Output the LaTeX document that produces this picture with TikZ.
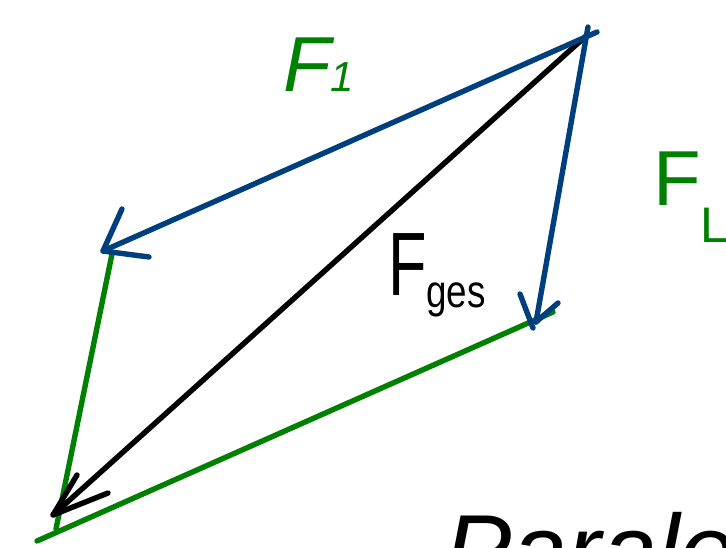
\documentclass[tikz,border=0pt]{standalone}
\usepackage{fontspec}
\setmainfont{Liberation Sans}
\usepackage{graphicx}
\begin{document}
\begin{tikzpicture}[x=1pt,y=-1pt,line cap=round,line join=round,
  vec/.style={line width=5.4pt},
  lab/.style={anchor=base west,inner sep=0pt,outer sep=0pt}]
\definecolor{vblue}{RGB}{0,63,125}
\definecolor{vgreen}{RGB}{0,128,0}
\useasboundingbox (0,0) rectangle (726,548);
\clip (0,0) rectangle (726,548);
% vertices
\coordinate (T) at (586,36);
\coordinate (Tx) at (597,32);
\coordinate (Ty) at (588,27);
\coordinate (L) at (103,251);
\coordinate (La) at (122,209);
\coordinate (Lb) at (149,257);
\coordinate (R) at (536,322);
\coordinate (Ra) at (520,294);
\coordinate (Rb) at (533,328);
\coordinate (Rc) at (558,303);
\coordinate (B) at (53,515);
\coordinate (Ba) at (77,475);
\coordinate (Bb) at (108,493);
\coordinate (G1) at (112,254);
\coordinate (G2) at (56,529);
\coordinate (G3) at (37,541);
\coordinate (G4) at (553,312);
% green sides
\draw[vec,vgreen] (G1) -- (G2);
\draw[vec,vgreen] (G3) -- (G4);
% black resultant
\draw[vec,black] (T) -- (B);
\draw[vec,black] (Ba) -- (B) -- (Bb);
% blue components
\draw[vec,vblue] (Tx) -- (L);
\draw[vec,vblue] (La) -- (L) -- (Lb);
\draw[vec,vblue] (Ty) -- (R);
\draw[vec,vblue] (Ra) -- (Rb);
\draw[vec,vblue] (Rc) -- (R);
% labels
\node[lab,text=vgreen,font=\itshape\fontsize{78}{78}\selectfont] (f1) at (283,92)
  {F\raisebox{0pt}{\fontsize{42}{42}\selectfont 1}};
\node[lab,text=vgreen,font=\fontsize{78}{78}\selectfont] (f2) at (653,206)
  {F\raisebox{-37pt}{\fontsize{50}{50}\selectfont L}};
\node[lab,text=black,font=\fontsize{90}{90}\selectfont] (fg) at (388,296)
  {\scalebox{0.7}[1]{F}\raisebox{-12pt}{\fontsize{46}{46}\selectfont\scalebox{0.8}[1]{ges}}};
\node[lab,text=black,font=\itshape\fontsize{101}{101}\selectfont] (title) at (444,585)
  {Paralelogram};
\end{tikzpicture}
\end{document}
